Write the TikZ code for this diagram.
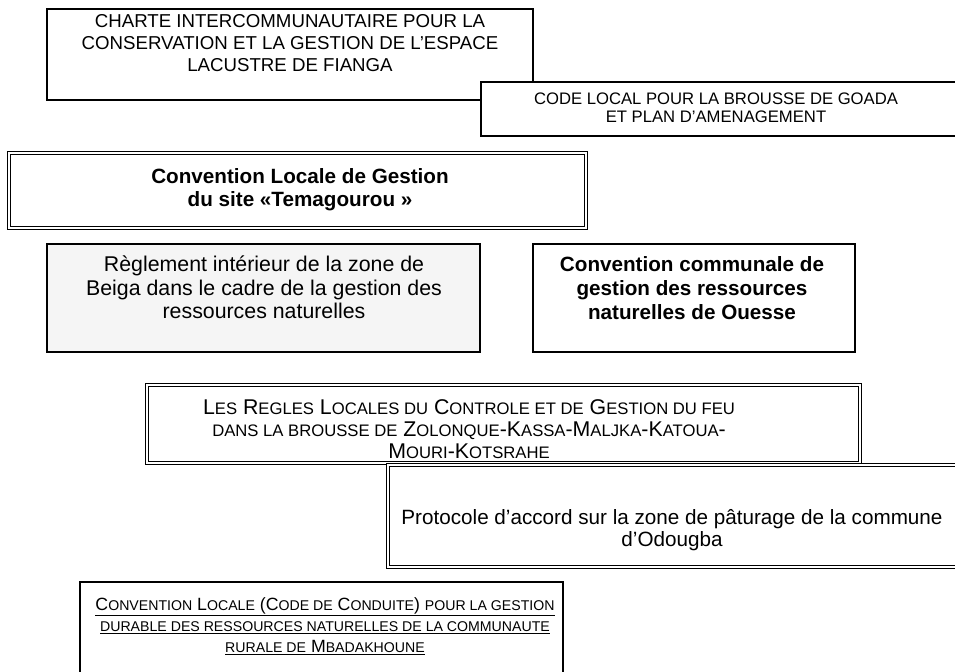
\documentclass[tikz,border=0pt]{standalone}
\usepackage{fontspec}
\setmainfont{Liberation Sans}
\usetikzlibrary{fit,positioning}
\definecolor{rgfill}{RGB}{245,245,245}
% fake small caps: lower part of a word in smaller capitals
\def\smsize{10}
\newcommand{\smc}[1]{{\fontsize{\smsize}{\smsize}\selectfont #1}}

\begin{document}
\begin{tikzpicture}[x=0.75pt,y=-0.75pt,
  frame/.style={draw,line width=0.8pt,fill=white,inner sep=0pt},
  thickframe/.style={frame,line width=2pt},
  dblframe/.style={draw,double,line width=0.7pt,double distance=1.4pt,inner sep=0pt},
  txt/.style={align=center,inner sep=0pt,anchor=north}
]
  \useasboundingbox (0,0) rectangle (955,671);

  % boxes
  \node[thickframe,fit={(47,9) (533,100)}] (charte) {};
  \node[frame,fit={(481,82) (965,136)}] (goada) {};
  \node[dblframe,fit={(9,153) (586,228)}] (temag) {};
  \node[frame,fill=rgfill,fit={(47,244) (480,352)}] (beiga) {};
  \node[frame,fit={(533,244) (855,352)}] (ouesse) {};
  \node[dblframe,fit={(147,385) (860,463)}] (zolonque) {};
  \node[dblframe,fit={(388,465) (965,567)}] (odougba) {};
  \node[frame,fit={(80,582) (563,680)}] (mbada) {};

  % texts
  \node[txt,font=\fontsize{14}{16.5}\selectfont] (charte-t) at (290,14)
    {CHARTE INTERCOMMUNAUTAIRE POUR LA\\CONSERVATION ET LA GESTION DE L’ESPACE\\LACUSTRE DE FIANGA};
  \node[txt,font=\fontsize{12.5}{13.5}\selectfont] (goada-t) at (716,93)
    {CODE LOCAL POUR LA BROUSSE DE GOADA\\ET PLAN D’AMENAGEMENT};
  \node[txt,font=\bfseries\fontsize{15.5}{17.5}\selectfont] (temag-t) at (300,168)
    {Convention Locale de Gestion\\du site «Temagourou »};
  \node[txt,font=\fontsize{16}{17.5}\selectfont] (beiga-t) at (264,256)
    {Règlement intérieur de la zone de\\Beiga dans le cadre de la gestion des\\ressources naturelles};
  \node[txt,font=\bfseries\fontsize{15.5}{18}\selectfont] (ouesse-t) at (692,256)
    {Convention communale de\\gestion des ressources\\naturelles de Ouesse};
  \node[txt,font=\fontsize{16}{16.5}\selectfont\def\smsize{12.5}] (zolonque-t) at (469,399)
    {L\smc{ES} R\smc{EGLES} L\smc{OCALES DU} C\smc{ONTROLE ET DE} G\smc{ESTION DU FEU}\\
     \smc{DANS LA BROUSSE DE} Z\smc{OLONQUE}-K\smc{ASSA}-M\smc{ALJKA}-K\smc{ATOUA}-\\
     M\smc{OURI}-K\smc{OTSRAHE}};
  \node[txt,font=\fontsize{15.5}{16.5}\selectfont] (odougba-t) at (672,509)
    {Protocole d’accord sur la zone de pâturage de la commune\\d’Odougba};
  \node[txt,font=\fontsize{13.3}{15.8}\selectfont\def\smsize{10.6}] (mbada-t) at (325,597)
    {\underline{C\smc{ONVENTION} L\smc{OCALE} (C\smc{ODE DE} C\smc{ONDUITE}) \smc{POUR LA GESTION}}\\
     \underline{\smc{DURABLE DES RESSOURCES NATURELLES DE LA COMMUNAUTE}}\\
     \underline{\smc{RURALE DE} M\smc{BADAKHOUNE}}};
\end{tikzpicture}
\end{document}
